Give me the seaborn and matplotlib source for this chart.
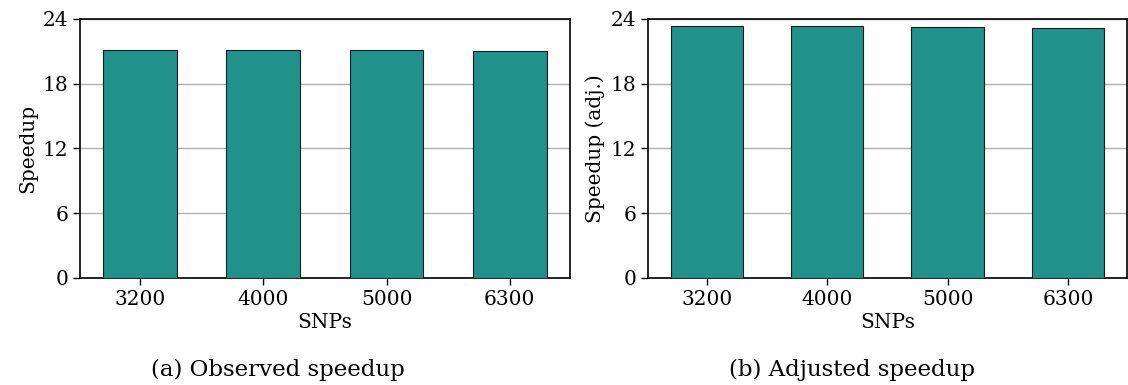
import matplotlib
matplotlib.use("Agg")
import matplotlib.pyplot as plt
import seaborn as sns
import pandas as pd

snps = ["3200", "4000", "5000", "6300"]
observed_speedup = [21.1, 21.1, 21.1, 21.05]
adjusted_speedup = [23.3, 23.3, 23.25, 23.2]
y_ticks = [0, 6, 12, 18, 24]

sns.set_style("white")
plt.rcParams["font.family"] = ["DejaVu Serif"]
plt.rcParams["text.color"] = "black"
plt.rcParams["axes.labelcolor"] = "black"
plt.rcParams["xtick.color"] = "black"
plt.rcParams["ytick.color"] = "black"

bar_color = "#21918c"
fs = 14.5

fig = plt.figure(figsize=(11.28, 3.85), dpi=100)
ax_a = fig.add_axes([0.0709, 0.278, 0.4344, 0.673])
ax_b = fig.add_axes([0.5745, 0.278, 0.4244, 0.673])

panels = [
    (ax_a, observed_speedup, "Speedup", "(a) Observed speedup", 0.2465),
    (ax_b, adjusted_speedup, "Speedup (adj.)", "(b) Adjusted speedup", 0.755),
]

for ax, values, ylabel, caption, cx in panels:
    df = pd.DataFrame({"SNPs": snps, "value": values})
    sns.barplot(data=df, x="SNPs", y="value", ax=ax, color=bar_color,
                width=0.6, edgecolor="#1a1a1a", linewidth=0.8,
                saturation=1, zorder=3)
    ax.set_ylim(0, 24)
    ax.set_xlim(-0.49, 3.49)
    ax.set_yticks(y_ticks)
    ax.yaxis.grid(True, color="#b0b0b0", linewidth=1.0, zorder=0)
    ax.set_axisbelow(True)
    for s in ax.spines.values():
        s.set_visible(True)
        s.set_color("black")
        s.set_linewidth(1.2)
    ax.tick_params(axis="both", which="major", direction="out", length=5,
                   width=1.0, color="black", labelcolor="black",
                   labelsize=fs, left=True, bottom=True)
    ax.set_xlabel("SNPs", fontsize=fs, labelpad=3, color="black")
    ax.set_ylabel(ylabel, fontsize=fs, labelpad=4, color="black")
    fig.text(cx, 0.04, caption, ha="center", va="center",
             fontsize=16.5, color="black")

fig.savefig("out.png", dpi=100)
